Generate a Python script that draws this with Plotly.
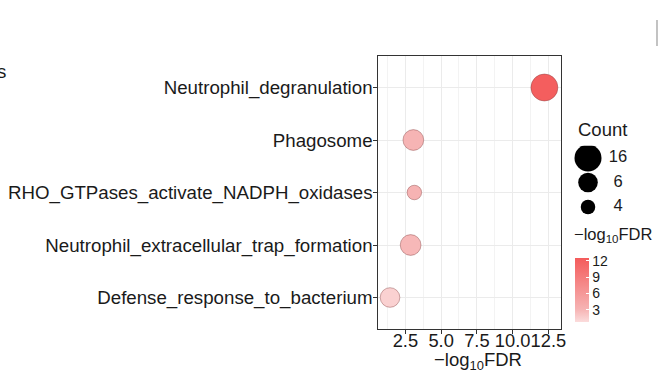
import numpy as np
import plotly.graph_objects as go

# ---------------- data ----------------
pathways = [
    "Defense_response_to_bacterium",
    "Neutrophil_extracellular_trap_formation",
    "RHO_GTPases_activate_NADPH_oxidases",
    "Phagosome",
    "Neutrophil_degranulation",
]
neg_log10_fdr = [1.43, 2.87, 3.13, 3.06, 12.22]
counts = [6, 7, 4, 7, 16]

legend_counts = [16, 6, 4]
x_ticks = [2.5, 5.0, 7.5, 10.0, 12.5]
x_tick_text = ["2.5", "5.0", "7.5", "10.0", "12.5"]
cbar_ticks = [3, 6, 9, 12]

# ---------------- styling ----------------
W, H = 658, 383
FONT = "Liberation Sans, Arial, Helvetica, sans-serif"
PL, PR, PT, PB = 378.3, 561.0, 56.0, 329.0  # panel in px


def px_x(v):
    return v / W


def px_y(v):
    return 1 - v / H


CMIN, CMAX = 4, 16
DMIN, DMAX = 14.5, 27.0


def diam(c):
    c = np.asarray(c, dtype=float)
    return DMIN + (DMAX - DMIN) * np.sqrt((c - CMIN) / (CMAX - CMIN))


colorscale = [[0.0, "#FBDCDC"], [0.2, "#F6B3B3"], [1.0, "#F45B5B"]]

fig = go.Figure()

fig.add_trace(go.Scatter(
    x=neg_log10_fdr, y=pathways, mode="markers",
    marker=dict(
        size=diam(counts), color=neg_log10_fdr,
        colorscale=colorscale, cmin=0.8, cmax=12.5, opacity=1,
        line=dict(width=0.7, color="rgba(130,60,60,0.6)"),
        colorbar=dict(
            x=px_x(574.5), xanchor="left", xpad=0, ypad=0,
            y=px_y(290), yanchor="middle",
            lenmode="pixels", len=64, thickness=14,
            outlinewidth=0,
            tickvals=cbar_ticks, ticks="inside", ticklen=3,
            tickcolor="white", tickwidth=1,
            tickfont=dict(family=FONT, size=14, color="#1a1a1a"),
        ),
    ),
    showlegend=False, hoverinfo="x+y",
    xaxis="x", yaxis="y",
))

# Count legend (drawn on an auxiliary axis)
fig.add_trace(go.Scatter(
    x=[0] * len(legend_counts), y=[str(c) for c in legend_counts],
    mode="markers",
    marker=dict(size=diam(legend_counts), color="#000000", opacity=1,
                line=dict(width=0)),
    showlegend=False, hoverinfo="skip", xaxis="x2", yaxis="y2",
))
fig.add_trace(go.Scatter(
    x=[30] * len(legend_counts), y=[str(c) for c in legend_counts],
    mode="text", text=[str(c) for c in legend_counts],
    textposition="middle center",
    textfont=dict(family=FONT, size=16.5, color="#1a1a1a"),
    showlegend=False, hoverinfo="skip", xaxis="x2", yaxis="y2",
))

axis_common = dict(
    showline=True, linecolor="#333333", linewidth=1, mirror=True,
    ticks="outside", ticklen=4, tickcolor="#333333", tickwidth=1,
    zeroline=False, gridcolor="#EBEBEB", gridwidth=1.1,
)

fig.update_layout(
    width=W, height=H,
    margin=dict(l=0, r=0, t=0, b=0, autoexpand=False),
    paper_bgcolor="white", plot_bgcolor="white",
    font=dict(family=FONT, color="#1a1a1a"),
    xaxis=dict(
        domain=[px_x(PL), px_x(PR)], range=[0.61, 13.38],
        tickvals=x_ticks, ticktext=x_tick_text, showgrid=True,
        tickangle=0, ticklabelstandoff=-9,
        tickfont=dict(family=FONT, size=18.3, color="#1a1a1a"),
        minor=dict(dtick=1.25, tick0=0, showgrid=True,
                   gridcolor="#F3F3F3", gridwidth=0.8, ticks=""),
        **axis_common,
    ),
    yaxis=dict(
        domain=[px_y(PB), px_y(PT)], range=[-0.6, 4.6],
        type="category", categoryorder="array", categoryarray=pathways,
        showgrid=True, ticklabelstandoff=-3,
        tickfont=dict(family=FONT, size=18.7, color="#1a1a1a"),
        **axis_common,
    ),
    xaxis2=dict(domain=[px_x(570), px_x(650)], range=[-18, 62],
                visible=False, fixedrange=True),
    yaxis2=dict(domain=[px_y(219.25), px_y(145.75)], range=[-0.5, 2.5],
                type="category", categoryorder="array",
                categoryarray=[str(c) for c in legend_counts[::-1]],
                visible=False, fixedrange=True),
    annotations=[
        dict(text="−log<sub>10</sub>FDR", xref="paper", yref="paper",
             x=px_x(478), y=px_y(361), xanchor="center", yanchor="middle",
             showarrow=False, font=dict(family=FONT, size=18.5, color="#1a1a1a")),
        dict(text="Count", xref="paper", yref="paper",
             x=px_x(576), y=px_y(129), xanchor="left", yanchor="middle",
             showarrow=False, font=dict(family=FONT, size=18.5, color="#1a1a1a")),
        dict(text="−log<sub>10</sub>FDR", xref="paper", yref="paper",
             x=px_x(572), y=px_y(235), xanchor="left", yanchor="middle",
             showarrow=False, font=dict(family=FONT, size=16.5, color="#1a1a1a")),
        dict(text="s", xref="paper", yref="paper",
             x=px_x(8), y=px_y(71), xanchor="right", yanchor="middle",
             showarrow=False, font=dict(family=FONT, size=18.7, color="#1a1a1a")),
    ],
    shapes=[
        dict(type="line", xref="paper", yref="paper",
             x0=px_x(657), x1=px_x(657), y0=px_y(20), y1=px_y(46),
             line=dict(color="#9a9a9a", width=1.2)),
    ],
)

fig.write_html(
    "out.html",
    config={"displayModeBar": False},
    post_script="document.body.style.margin='0';document.body.style.overflow='hidden';",
)
